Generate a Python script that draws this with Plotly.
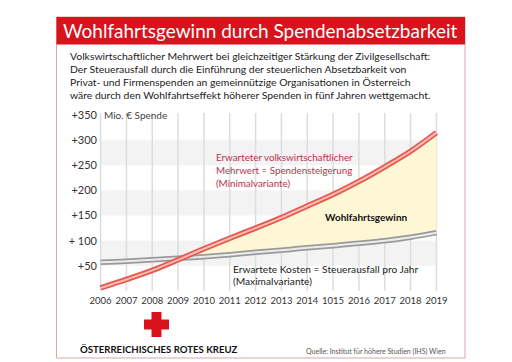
import plotly.graph_objects as go

# ---------------- data ----------------
years = [2006, 2007, 2008, 2009, 2010, 2011, 2012, 2013, 2014, 2015, 2016, 2017, 2018, 2019]
year_labels = ["2006", "2007", "2008", "2009", "2010", "2011", "2012", "2013", "2014",
               "1015", "2016", "2017", "2018", "2019"]
mehrwert = [6, 23, 41, 62, 84, 105, 125, 146, 169, 192, 218, 247, 278, 315]
kosten = [57, 59, 62, 65, 68, 72, 77, 81, 86, 90, 95, 100, 107, 116]
y_ticks = [50, 100, 150, 200, 250, 300, 350]
y_labels = ["+50", "+ 100", "+150", "+200", "+250", "+300", "+350"]
bands = [(50, 100), (150, 200), (250, 300)]

title = "Wohlfahrtsgewinn durch Spendenabsetzbarkeit"
subtitle = [
    "Volkswirtschaftlicher Mehrwert bei gleichzeitiger Stärkung der Zivilgesellschaft:",
    "Der Steuerausfall durch die Einführung der steuerlichen Absetzbarkeit von",
    "Privat- und Firmenspenden an gemeinnützige Organisationen in Österreich",
    "wäre durch den Wohlfahrtseffekt höherer Spenden in fünf Jahren wettgemacht.",
]
red_label = ["Erwarteter volkswirtschaftlicher", "Mehrwert = Spendensteigerung", "(Minimalvariante)"]
gray_label = ["Erwartete Kosten = Steuerausfall pro Jahr", "(Maximalvariante)"]

# ---------------- geometry ----------------
W, H = 512, 362
ML, MR, MT, MB = 90, 81, 104, 77
PW, PH = W - ML - MR, H - MT - MB
FONT = "Lato"
RED = "#d7131c"


def px(x):
    return (x - ML) / PW


def py(y):
    return 1 - (y - MT) / PH


# fill polygon between curves where mehrwert exceeds kosten
upper_x, upper_y, lower_y = [], [], []
for i in range(1, len(years)):
    d0 = mehrwert[i - 1] - kosten[i - 1]
    d1 = mehrwert[i] - kosten[i]
    if d0 < 0 <= d1:
        t = -d0 / (d1 - d0)
        xc = years[i - 1] + t * (years[i] - years[i - 1])
        yc = kosten[i - 1] + t * (kosten[i] - kosten[i - 1])
        upper_x.append(xc); upper_y.append(yc); lower_y.append(yc)
    if d1 >= 0:
        upper_x.append(years[i]); upper_y.append(mehrwert[i]); lower_y.append(kosten[i])
fill_x = upper_x + upper_x[::-1]
fill_y = upper_y + lower_y[::-1]

fig = go.Figure()
fig.add_trace(go.Scatter(x=fill_x, y=fill_y, fill="toself", fillcolor="#fdf7d6",
                         mode="lines", line=dict(width=0), hoverinfo="skip"))
fig.add_trace(go.Scatter(x=years, y=kosten, mode="lines",
                         line=dict(color="#9a9a9a", width=5.5, shape="spline")))
fig.add_trace(go.Scatter(x=years, y=kosten, mode="lines",
                         line=dict(color="#ececec", width=2, shape="spline")))
fig.add_trace(go.Scatter(x=years, y=mehrwert, mode="lines",
                         line=dict(color="#e5584f", width=5.5, shape="spline")))
fig.add_trace(go.Scatter(x=years, y=mehrwert, mode="lines",
                         line=dict(color="#f8bcb2", width=2, shape="spline")))

shapes = []
for lo, hi in bands:
    shapes.append(dict(type="rect", xref="x", yref="y", x0=years[0], x1=years[-1], y0=lo, y1=hi,
                       fillcolor="#f3f3f3", line=dict(width=0), layer="below"))
for yr in years:
    shapes.append(dict(type="line", xref="x", yref="y", x0=yr, x1=yr, y0=0, y1=y_ticks[-1] + 4,
                       line=dict(color="#dddddd", width=1.5), layer="below"))
# frame and title bar
shapes.append(dict(type="rect", xref="paper", yref="paper", x0=px(48.5), x1=px(457), y0=py(350), y1=py(9),
                   line=dict(color="#e3a2a8", width=1), fillcolor="rgba(0,0,0,0)", layer="below"))
shapes.append(dict(type="rect", xref="paper", yref="paper", x0=px(48.5), x1=px(457), y0=py(36.5), y1=py(9),
                   line=dict(width=0), fillcolor=RED, layer="below"))
# red cross logo
shapes.append(dict(type="rect", xref="paper", yref="paper", x0=px(143.5), x1=px(153.5), y0=py(329), y1=py(304),
                   line=dict(width=0), fillcolor=RED))
shapes.append(dict(type="rect", xref="paper", yref="paper", x0=px(136), x1=px(161), y0=py(321.5), y1=py(311.5),
                   line=dict(width=0), fillcolor=RED))

ann = []


def text(x, y, s, size, color="#222222", anchor="left", family=FONT):
    ann.append(dict(x=px(x), y=py(y), xref="paper", yref="paper", text=s, showarrow=False,
                    xanchor=anchor, yanchor="middle", borderpad=0,
                    font=dict(family=family, size=size, color=color)))


text(252.5, 22.5, title, 19, "white", "center")
for i, s in enumerate(subtitle):
    text(61, 48 + i * 13, s, 10.4)
text(95, 107, "Mio. € Spende", 10, "#444444")
for i, s in enumerate(red_label):
    text(207, 149 + i * 13, s, 9.8, "#b8324c")
text(358, 209, "<b>Wohlfahrtsgewinn</b>", 10, "#111111", "center")
for i, s in enumerate(gray_label):
    text(224, 261 + i * 11.5, s, 10.2)
text(71, 341, "<b>ÖSTERREICHISCHES ROTES KREUZ</b>", 9.6, "#111111")
text(439, 343, "Quelle: Institut für höhere Studien (IHS) Wien", 7, "#555555", "right")

fig.update_layout(
    template="none",
    width=W, height=H,
    margin=dict(l=ML, r=MR, t=MT, b=MB, pad=0),
    paper_bgcolor="white", plot_bgcolor="white",
    showlegend=False,
    shapes=shapes, annotations=ann,
    font=dict(family=FONT, color="#333333"),
    xaxis=dict(range=[2005.9, 2019.1], tickvals=years, ticktext=year_labels, showgrid=False,
               zeroline=False, showline=False, ticks="", tickangle=0, automargin=False,
               tickfont=dict(size=9.5, color="#333333"), fixedrange=True),
    yaxis=dict(range=[-4, 356], tickvals=y_ticks, ticktext=y_labels, showgrid=False, zeroline=False,
               showline=False, ticks="", automargin=False,
               tickfont=dict(size=11, color="#333333"), fixedrange=True),
)
fig.write_html("out.html")
